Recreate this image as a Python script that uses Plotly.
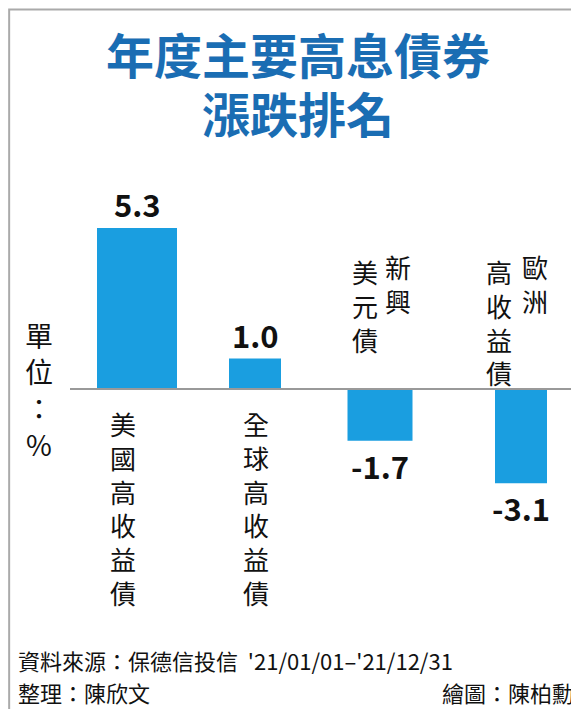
import plotly.graph_objects as go

categories = ["美國高收益債", "全球高收益債", "新興美元債", "歐洲高收益債"]
values = [5.3, 1.0, -1.7, -3.1]
value_labels = ["5.3", "1.0", "-1.7", "-3.1"]
xpos = [129, 247, 372, 513]
widths = [80, 52, 65, 52]

W, H = 579, 709
base_px, scale = 381, 30.4
ytop = base_px / scale
ybot = -(H - base_px) / scale

fig = go.Figure(go.Bar(x=xpos, y=values, width=widths, marker_color="#1a9ee0",
                       marker_line_width=0, showlegend=False))

def py(p):
    return (base_px - p) / scale

ann = []
def t(x, y, s, size, color="#111", bold=False, xa="center", ya="middle"):
    ann.append(dict(x=x, y=y, xref="x", yref="y", text=f"<b>{s}</b>" if bold else s,
                    showarrow=False, font=dict(size=size, color=color, family="Noto Sans CJK TC"),
                    xanchor=xa, yanchor=ya))

t(W/2, py(45), "年度主要高息債券", 48, "#1a6db3", True)
t(W/2, py(104), "漲跌排名", 48, "#1a6db3", True)
for i, (x, v) in enumerate(zip(xpos, values)):
    if v >= 0:
        t(x, v, value_labels[i], 31, bold=True, ya="bottom")
    else:
        t(x, v, value_labels[i], 31, bold=True, ya="top")
vert = lambda s: "<br>".join(s)
t(115, py(395), vert("美國高收益債"), 26, ya="top")
t(248, py(395), vert("全球高收益債"), 26, ya="top")
t(390, py(238), vert("新興"), 26, ya="top")
t(357, py(243), vert("美元債"), 26, ya="top")
t(527, py(238), vert("歐洲"), 26, ya="top")
t(491, py(243), vert("高收益債"), 26, ya="top")
t(31, py(305), "單<br>位<br>：<br>%", 28, ya="top")
t(8, py(652), "資料來源：保德信投信  '21/01/01–'21/12/31", 22, xa="left")
t(8, py(684), "整理：陳欣文", 22, xa="left")
t(568, py(684), "繪圖：陳柏勳", 22, xa="right")

fig.update_layout(
    width=W, height=H, margin=dict(l=0, r=0, t=0, b=0),
    paper_bgcolor="white", plot_bgcolor="white",
    xaxis=dict(range=[0, W], visible=False, fixedrange=True),
    yaxis=dict(range=[ybot, ytop], visible=False),
    annotations=ann,
    shapes=[
        dict(type="line", xref="x", yref="y", x0=62, x1=568, y0=0, y1=0,
             line=dict(color="#999", width=2)),
        dict(type="rect", xref="paper", yref="paper", x0=0.002, x1=0.998, y0=0.002, y1=0.998,
             line=dict(color="#aaa", width=2)),
    ],
)
fig.write_html("out.html")
